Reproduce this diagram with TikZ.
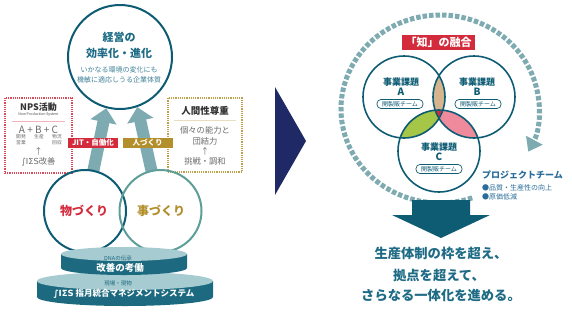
\documentclass[tikz,border=0pt]{standalone}
\usepackage{fontspec}
\setmainfont{Noto Sans CJK JP}
\newfontfamily\sigmafont{DejaVu Sans}
\usetikzlibrary{arrows.meta}

\definecolor{deepteal}{HTML}{0E5C73}
\definecolor{softteal}{HTML}{5E9E98}
\definecolor{arrowteal}{HTML}{7EABB1}
\definecolor{titleteal}{HTML}{1E6B85}
\definecolor{jitred}{HTML}{D42B3C}
\definecolor{hitogold}{HTML}{B38F2C}
\definecolor{chevron}{HTML}{1E2966}
\definecolor{tierface}{HTML}{A6CBD0}
\definecolor{tierside}{HTML}{1D6A80}
\definecolor{graytext}{HTML}{6A6A6A}
\definecolor{lenstan}{HTML}{D6B48E}
\definecolor{lensgreen}{HTML}{A5C646}
\definecolor{lenspink}{HTML}{EE8A9B}
\definecolor{teamblue}{HTML}{2A6C9A}

\newcommand\fsz[1]{\fontsize{#1}{#1}\selectfont}

\pgfdeclarelayer{back}
\pgfsetlayers{back,main}

\tikzset{
  every node/.style={inner sep=0pt},
  upshaft/.style={line width=12pt, arrowteal, -{Triangle[width=26pt,length=14pt]}},
  tagbox/.style={fill=#1, text=white, font=\bfseries\fsz{7.5}, minimum width=50pt, minimum height=10pt},
  ringcirc/.style={circle, draw=#1, line width=2pt, minimum size=82pt},
  dotbox/.style={draw=#1, line width=1.3pt, dash pattern=on 1.2pt off 1pt},
  venn/.style={circle, draw=deepteal, line width=1.6pt, minimum size=82pt},
  vennlabel/.style={font=\bfseries\fsz{9}, text=deepteal},
  team/.style={draw=deepteal, rounded corners=4pt, line width=0.7pt, minimum width=46pt, minimum height=9pt, font=\fsz{6}, text=deepteal},
  ring/.style={draw=arrowteal, line width=5pt, dash pattern=on 4.5pt off 2pt, -{Triangle[width=18pt,length=13pt]}},
  graynote/.style={font=\fsz{8.3}, text=graytext},
  lead/.style={font=\bfseries\fsz{13.3}, text=titleteal}
}

\begin{document}
\begin{tikzpicture}[x=1pt, y=-1pt, line width=0.6pt]
  \useasboundingbox (0,0) rectangle (572,314);

  % keiei circle
  \node[circle, draw=deepteal, line width=2pt, minimum size=104pt] (keiei) at (120,57) {};
  \node[font=\bfseries\fsz{11}, text=titleteal] (keieiA) at (119,37) {経営の};
  \node[font=\bfseries\fsz{11}, text=titleteal] (keieiB) at (119,53) {効率化・進化};
  \node[font=\fsz{7}, text=titleteal!85] (keieiC) at (119,70) {いかなる環境の変化にも};
  \node[font=\fsz{7}, text=titleteal!85] (keieiD) at (119,80) {機敏に適応しうる企業体質};

  % NPS box
  \node[dotbox=jitred!85, minimum width=67pt, minimum height=75pt] (npsbox) at (38.5,135.5) {};
  \node[font=\bfseries\fsz{9}, text=black!80] (npstitle) at (38.5,107) {NPS活動};
  \node[font=\fsz{3.6}, text=black!70] (npssub) at (38.5,114) {New Production System};
  \draw[jitred!35, line width=0.8pt] (12,121) -- (65,121);
  \node[font=\fsz{10}, text=graytext] (abc) at (38.5,130) {A + B + C};
  \node[font=\fontsize{4.8}{5.4}\selectfont, text=graytext, align=center] (npsA) at (21,139.5) {開発\\営業};
  \node[font=\fsz{4.8}, text=graytext] (npsB) at (39,137) {生産};
  \node[font=\fontsize{4.8}{5.4}\selectfont, text=graytext, align=center] (npsC) at (57,139.5) {物流\\回収};
  \node[graynote] (npsup) at (38.5,151) {↑};
  \node[graynote] (npskaizen) at (38.5,162) {{\sigmafont ∫IΣS}改善};

  % hito box
  \node[dotbox=hitogold!85, minimum width=74pt, minimum height=74pt] (hitobox) at (205,135) {};
  \node[font=\bfseries\fsz{9.5}, text=black!80] (hitotitle) at (205,111) {人間性尊重};
  \draw[hitogold!30, line width=0.8pt] (174,120) -- (236,120);
  \node[graynote] (hitoA) at (205,130) {個々の能力と};
  \node[graynote] (hitoB) at (205,141) {団結力};
  \node[graynote] (hitoup) at (205,151) {↑};
  \node[graynote] (hitoC) at (205,161) {挑戦・調和};

  % mono / koto
  \node[ringcirc=deepteal] (mono) at (85,211) {};
  \node[ringcirc=softteal] (koto) at (160.5,211) {};
  \node[font=\bfseries\fsz{12}, text=jitred] (monoT) at (84,211) {物づくり};
  \node[font=\bfseries\fsz{12}, text=hitogold] (kotoT) at (161,211) {事づくり};

  \begin{pgfonlayer}{back}
    \draw[upshaft] (mono.center) -- (keiei.-105);
    \draw[upshaft] (koto.center) -- (keiei.-71);
    \fill[white] (mono.center) circle (41);
    \fill[white] (koto.center) circle (41);
  \end{pgfonlayer}

  \node[tagbox=jitred] (jit) at (93,143) {JIT・自働化};
  \node[tagbox=hitogold] (hitozukuri) at (147.5,143) {人づくり};

  % pedestal
  \fill[tierside] (37,281) -- (37,297) arc[start angle=180, end angle=0, x radius=88, y radius=9] -- (213,281) -- cycle;
  \fill[tierface] (125,281) ellipse[x radius=88, y radius=9];
  \fill[tierside] (61,254) -- (61,268) arc[start angle=180, end angle=0, x radius=63, y radius=7] -- (187,254) -- cycle;
  \fill[tierface] (124,254) ellipse[x radius=63, y radius=7];
  \node[font=\fsz{5.5}, text=tierside] (dna) at (118,258) {DNAの伝承};
  \node[font=\bfseries\fsz{9.5}, text=white] (kaizen) at (120,268) {改善の考働};
  \node[font=\fsz{5.5}, text=tierside] (genba) at (118,283.5) {現場・現物};
  \node[font=\bfseries\fsz{8.5}, text=white] (system) at (124,294) {{\sigmafont ∫IΣS} 指月統合マネジメントシステム};

  % chevron
  \fill[chevron] (275,87) -- (306,141) -- (275,195) -- cycle;

  % ring
  \draw[ring] (440,109) ++(71:99 and 94) arc[start angle=71, end angle=387, x radius=99, y radius=94];

  \node[fill=jitred, text=white, font=\bfseries\fsz{11}, minimum width=73pt, minimum height=15pt] (chi) at (438.5,42.5) {「知」の融合};

  % venn
  \coordinate (ca) at (404,97);
  \coordinate (cb) at (474,97);
  \coordinate (cc) at (439,151);
  \begin{scope}
    \clip (ca) circle (41);
    \fill[lenstan] (cb) circle (41);
  \end{scope}
  \begin{scope}
    \clip (ca) circle (41);
    \fill[lensgreen] (cc) circle (41);
  \end{scope}
  \begin{scope}
    \clip (cb) circle (41);
    \fill[lenspink] (cc) circle (41);
  \end{scope}
  \begin{scope}
    \clip (ca) circle (41);
    \clip (cb) circle (41);
    \fill[jitred] (cc) circle (41);
  \end{scope}
  \node[venn] (venA) at (ca) {};
  \node[venn] (venB) at (cb) {};
  \node[venn] (venC) at (cc) {};

  \node[vennlabel] (venAt) at (401,82) {事業課題};
  \node[vennlabel, font=\bfseries\fsz{10}] (venAl) at (401,91.5) {A};
  \node[team] (venAb) at (400,104) {開製販チーム};
  \node[vennlabel] (venBt) at (477,82) {事業課題};
  \node[vennlabel, font=\bfseries\fsz{10}] (venBl) at (477,91.5) {B};
  \node[team] (venBb) at (478,104) {開製販チーム};
  \node[vennlabel] (venCt) at (439,147) {事業課題};
  \node[vennlabel, font=\bfseries\fsz{10}] (venCl) at (439,157) {C};
  \node[team] (venCb) at (439,169) {開製販チーム};

  \node[font=\bfseries\fsz{9}, text=teamblue, anchor=west] (team) at (482,175) {プロジェクトチーム};
  \node[font=\fsz{7}, text=teamblue, anchor=west] (teamA) at (482,188) {●品質・生産性の向上};
  \node[font=\fsz{7}, text=teamblue, anchor=west] (teamB) at (482,197) {●原価低減};

  % down arrow
  \fill[deepteal] (412,200) -- (470,200) -- (470,215) -- (490,215) -- (441,238) -- (392,215) -- (412,215) -- cycle;

  \node[lead] (leadA) at (441,253) {生産体制の枠を超え、};
  \node[lead] (leadB) at (439,275) {拠点を超えて、};
  \node[lead] (leadC) at (441,295) {さらなる一体化を進める。};
\end{tikzpicture}
\end{document}
